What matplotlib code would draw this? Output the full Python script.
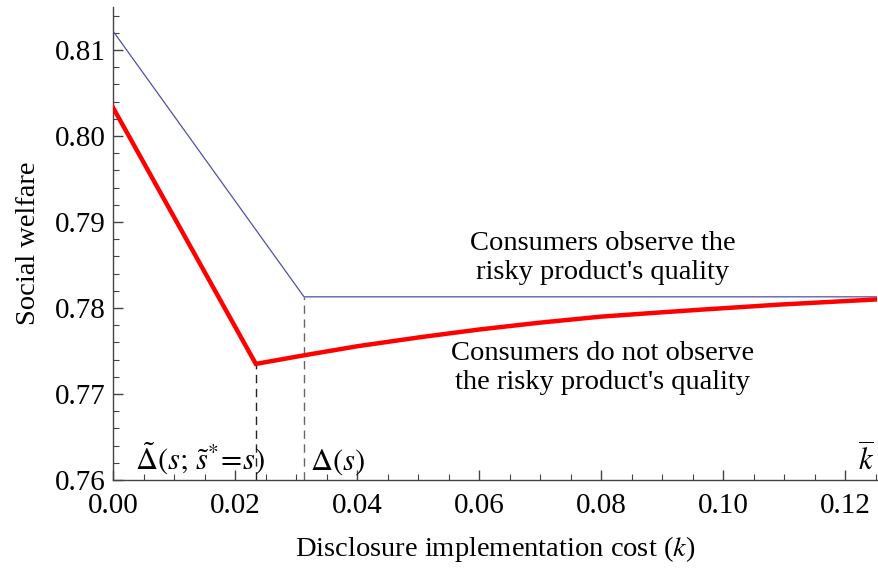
import matplotlib.pyplot as plt
import numpy as np

plt.rcParams['font.family'] = 'Liberation Serif'
plt.rcParams['mathtext.fontset'] = 'stix'

# data
blue_k = [0.0, 0.0313, 0.1252]
blue_w = [0.8122, 0.7813, 0.7813]

red_k = [0.0, 0.0234, 0.0313, 0.040, 0.0503, 0.060, 0.070, 0.080, 0.090, 0.0962, 0.1093, 0.1252]
red_w = [0.8033, 0.7735, 0.7745, 0.77555, 0.7766, 0.7775, 0.7783, 0.7790, 0.7795, 0.7798, 0.7804, 0.7810]

k_tilde = 0.0234
k_delta = 0.0313
k_bar = 0.1252

fig = plt.figure(figsize=(8.79, 5.72), dpi=100)
ax = fig.add_axes([0.1286, 0.1608, 0.8691, 0.827])

ax.plot(blue_k, blue_w, color='#5050a8', lw=0.9, zorder=3)
ax.plot(red_k, red_w, color='red', lw=3.2, zorder=4, solid_joinstyle='miter')

# dashed drop lines
ax.plot([k_tilde, k_tilde], [0.76, np.interp(k_tilde, red_k, red_w)],
        color='#222222', lw=1, ls=(0, (6, 4)), zorder=2)
ax.plot([k_delta, k_delta], [0.76, np.interp(k_delta, blue_k, blue_w)],
        color='#666666', lw=1, ls=(0, (6, 4)), zorder=2)

ax.set_xlim(0, k_bar)
ax.set_ylim(0.76, 0.815)
ax.set_xticks(np.arange(0, 0.121, 0.02))
ax.set_xticks(np.arange(0, 0.126, 0.005), minor=True)
ax.set_yticks(np.arange(0.76, 0.8101, 0.01))
ax.set_yticks(np.arange(0.76, 0.8141, 0.002), minor=True)
ax.set_xticklabels(['0.00', '0.02', '0.04', '0.06', '0.08', '0.10', '0.12'])
ax.set_yticklabels(['0.76', '0.77', '0.78', '0.79', '0.80', '0.81'])

for s in ['top', 'right']:
    ax.spines[s].set_visible(False)
for s in ['left', 'bottom']:
    ax.spines[s].set_color('#444444')
    ax.spines[s].set_linewidth(1.0)
ax.tick_params(which='both', direction='in', colors='#444444', labelcolor='black',
               labelsize=21)
ax.tick_params(axis='x', pad=9)
ax.tick_params(axis='y', pad=5)
ax.tick_params(which='major', length=7, width=1)
ax.tick_params(which='minor', length=4, width=0.8)

ax.set_xlabel('Disclosure implementation cost ($k$)', fontsize=20.5, labelpad=11)
ax.set_ylabel('Social welfare', fontsize=20.5, labelpad=10)

ax.text(0.0803, 0.7858, "Consumers observe the\nrisky product's quality",
        ha='center', va='center', fontsize=20.5, linespacing=1.2)
ax.text(0.0802, 0.7730, "Consumers do not observe\nthe risky product's quality",
        ha='center', va='center', fontsize=20.5, linespacing=1.2)

ax.text(0.0036, 0.7603, r'$\tilde{\Delta}(s;\,\tilde{s}^{*}\!=\!s)$', fontsize=22,
        ha='left', va='bottom')
ax.text(0.0323, 0.7603, r'$\Delta(s)$', fontsize=22, ha='left', va='bottom')
ax.text(0.1248, 0.7603, r'$\overline{k}$', fontsize=22, ha='right', va='bottom')

fig.savefig('out.png', dpi=100)
